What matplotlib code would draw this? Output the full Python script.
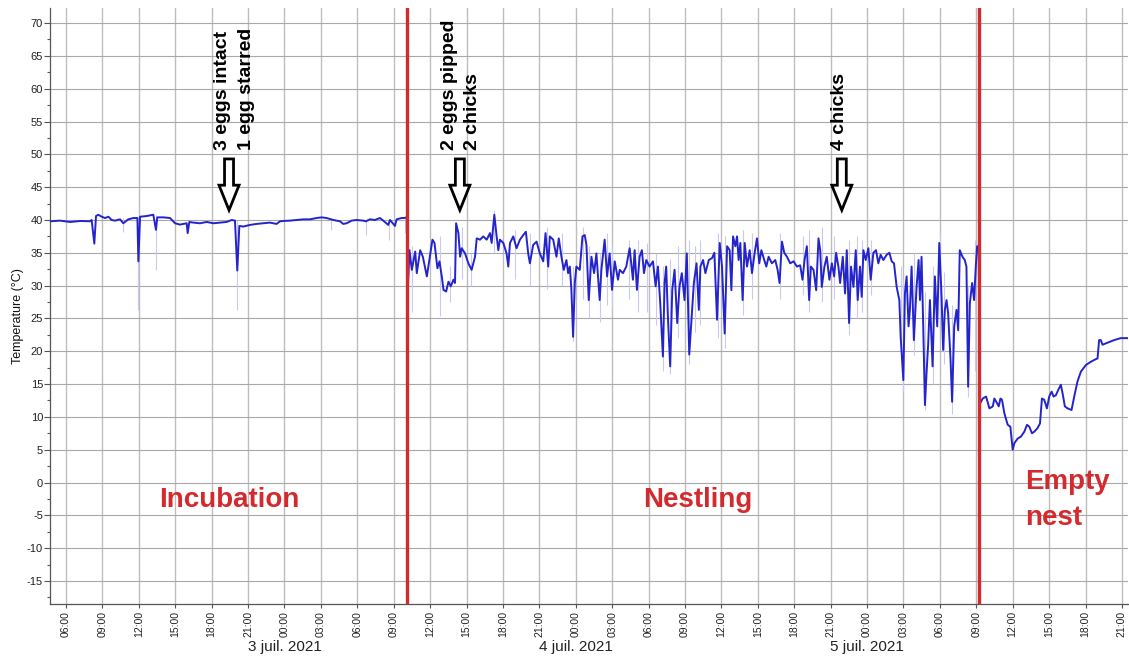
import matplotlib
matplotlib.use('Agg')
import numpy as np
import matplotlib.pyplot as plt
from matplotlib.patches import FancyArrow
from matplotlib.ticker import FixedLocator, MultipleLocator

# time axis: hours since 2 juil. 2021 00:00, values in degrees C
incubation = [
    (4.68, 39.8), (5.5, 39.9), (6.33, 39.7), (7.2, 39.85), (7.98, 39.8), (8.11, 40.0),
    (8.33, 36.4), (8.47, 40.6), (8.66, 40.8), (8.94, 40.5), (9.21, 40.3), (9.49, 40.5),
    (9.76, 40.0), (10.04, 39.9), (10.45, 40.1), (10.72, 39.5), (11.13, 40.1), (11.55, 40.3),
    (11.88, 40.3), (11.96, 33.7), (12.1, 40.5), (12.64, 40.6), (13.19, 40.8), (13.41, 38.5),
    (13.52, 40.4), (14.02, 40.4), (14.57, 40.3), (14.98, 39.5), (15.39, 39.3), (15.94, 39.5),
    (16.02, 38.0), (16.16, 39.7), (16.49, 39.6), (17.04, 39.5), (17.59, 39.7), (18.14, 39.5),
    (18.68, 39.6), (19.23, 39.7), (19.65, 40.0), (19.92, 39.9), (20.11, 32.3), (20.28, 39.1),
    (20.61, 39.0), (21.16, 39.25), (21.7, 39.4), (22.25, 39.5), (22.8, 39.6), (23.35, 39.4),
    (23.63, 39.8), (23.9, 39.85), (24.45, 39.9), (25.0, 40.0), (25.55, 40.1), (26.1, 40.1),
    (26.65, 40.3), (27.06, 40.4), (27.47, 40.3), (28.02, 40.0), (28.57, 39.8), (28.84, 39.4),
    (29.12, 39.5), (29.53, 39.9), (29.94, 40.0), (30.49, 39.9), (30.71, 39.8), (31.04, 40.1),
    (31.45, 40.0), (31.86, 40.3), (32.14, 39.9), (32.55, 39.25), (32.69, 40.0), (33.1, 39.1),
    (33.24, 40.1), (33.65, 40.3), (33.84, 40.3), (34.08, 40.4),
]

nestling = [
    (34.15, 29.0), (34.3, 35.4), (34.49, 32.4), (34.77, 35.2), (34.9, 31.9), (35.18, 35.4),
    (35.4, 34.4), (35.59, 32.65), (35.73, 31.4), (36.19, 37.0), (36.36, 36.5), (36.6, 32.65),
    (36.77, 33.7), (36.96, 31.4), (37.1, 29.35), (37.32, 29.1), (37.51, 30.6), (37.7, 29.9),
    (37.92, 30.9), (38.05, 30.4), (38.14, 39.5), (38.33, 38.0), (38.47, 34.4), (38.6, 35.7),
    (38.88, 34.9), (39.15, 33.4), (39.42, 32.4), (39.7, 34.4), (39.84, 37.2), (40.11, 37.0),
    (40.38, 37.5), (40.66, 37.0), (40.93, 38.0), (41.07, 36.5), (41.29, 40.8), (41.48, 37.5),
    (41.62, 35.4), (41.75, 37.0), (42.03, 36.5), (42.3, 34.9), (42.44, 32.9), (42.58, 36.5),
    (42.85, 37.5), (43.12, 35.7), (43.4, 37.0), (43.67, 37.7), (43.89, 38.2), (44.08, 34.9),
    (44.22, 33.4), (44.49, 36.2), (44.77, 36.7), (45.04, 34.9), (45.32, 33.7), (45.51, 38.0),
    (45.73, 32.9), (45.86, 37.5), (46.14, 37.0), (46.41, 34.4), (46.6, 37.2), (46.82, 34.4),
    (47.01, 32.4), (47.23, 33.9), (47.37, 31.9), (47.51, 32.9), (47.64, 29.35), (47.78, 22.2),
    (47.92, 30.4), (48.05, 32.9), (48.33, 32.4), (48.55, 37.5), (48.74, 37.7), (48.88, 36.2),
    (49.07, 27.8), (49.29, 34.4), (49.51, 31.9), (49.7, 34.9), (49.97, 27.8), (50.11, 32.4),
    (50.38, 37.0), (50.58, 31.4), (50.79, 34.9), (50.99, 29.35), (51.21, 33.7), (51.48, 30.9),
    (51.62, 32.4), (51.89, 31.9), (52.16, 32.9), (52.44, 35.7), (52.71, 30.9), (52.85, 35.4),
    (53.04, 29.35), (53.26, 34.4), (53.45, 35.4), (53.62, 31.9), (53.81, 33.9), (54.08, 32.9),
    (54.36, 33.7), (54.58, 29.9), (54.77, 32.9), (54.96, 27.3), (55.18, 19.2), (55.32, 30.4),
    (55.45, 32.9), (55.59, 25.3), (55.78, 17.7), (55.95, 29.35), (56.14, 32.4), (56.36, 24.3),
    (56.55, 29.9), (56.74, 31.9), (56.96, 27.8), (57.15, 34.9), (57.35, 19.5), (57.73, 30.4),
    (57.95, 33.4), (58.14, 26.3), (58.27, 32.9), (58.49, 33.9), (58.68, 31.9), (58.96, 33.9),
    (59.23, 34.2), (59.42, 35.0), (59.64, 24.8), (59.86, 36.5), (60.05, 32.9), (60.27, 22.7),
    (60.47, 36.0), (60.68, 35.4), (60.82, 29.3), (60.96, 37.5), (61.15, 36.0), (61.29, 37.5),
    (61.42, 33.9), (61.56, 36.5), (61.75, 27.8), (61.92, 36.5), (62.11, 32.9), (62.33, 35.4),
    (62.52, 31.9), (62.74, 35.0), (62.93, 37.2), (63.12, 33.4), (63.29, 35.4), (63.48, 34.2),
    (63.7, 32.9), (63.89, 34.4), (64.16, 33.4), (64.44, 33.9), (64.63, 32.4), (64.79, 30.4),
    (64.99, 36.7), (65.18, 35.0), (65.4, 34.4), (65.67, 33.4), (65.95, 33.7), (66.22, 32.9),
    (66.49, 33.1), (66.68, 30.9), (66.85, 33.9), (67.04, 36.0), (67.23, 27.8), (67.37, 32.9),
    (67.59, 32.4), (67.81, 29.3), (68.0, 37.2), (68.14, 35.4), (68.27, 29.8), (68.49, 32.9),
    (68.68, 34.4), (68.9, 30.9), (69.1, 33.4), (69.29, 31.4), (69.45, 35.0), (69.64, 32.9),
    (69.78, 30.4), (70.0, 34.4), (70.19, 28.8), (70.33, 35.4), (70.52, 24.3), (70.68, 32.9),
    (70.88, 29.8), (71.07, 35.4), (71.23, 27.8), (71.42, 32.9), (71.56, 28.3), (71.7, 35.4),
    (71.89, 33.9), (72.11, 35.7), (72.3, 30.9), (72.52, 35.0), (72.74, 35.4), (72.93, 33.4),
    (73.12, 34.7), (73.34, 33.9), (73.62, 34.7), (73.84, 35.0), (74.03, 33.7), (74.22, 33.4),
    (74.44, 29.8), (74.66, 27.8), (74.77, 22.2), (74.99, 15.6), (75.12, 28.8), (75.26, 31.4),
    (75.42, 23.8), (75.53, 26.3), (75.67, 32.9), (75.86, 21.7), (76.08, 29.8), (76.25, 33.9),
    (76.36, 27.8), (76.49, 34.4), (76.63, 23.8), (76.77, 11.8), (76.9, 16.6), (77.04, 21.2),
    (77.18, 27.8), (77.4, 17.7), (77.59, 31.4), (77.78, 23.8), (77.95, 36.5), (78.14, 28.3),
    (78.27, 20.2), (78.41, 26.3), (78.55, 27.8), (78.68, 25.8), (78.88, 18.7), (79.01, 12.3),
    (79.18, 23.8), (79.37, 26.3), (79.51, 23.2), (79.64, 35.4), (79.86, 34.4), (80.05, 33.9),
    (80.19, 32.9), (80.33, 14.6), (80.47, 27.3), (80.66, 30.4), (80.82, 27.8), (80.96, 32.9),
    (81.07, 36.0), (81.2, 36.0),
]

empty_nest = [
    (81.3, 12.0), (81.53, 12.8), (81.81, 13.1), (82.08, 11.3), (82.36, 11.6), (82.49, 12.8),
    (82.71, 12.1), (82.85, 11.6), (82.99, 12.8), (83.12, 12.6), (83.32, 10.5), (83.59, 8.8),
    (83.81, 8.5), (84.0, 5.0), (84.14, 6.0), (84.41, 6.7), (84.68, 7.0), (84.96, 7.75),
    (85.18, 8.8), (85.37, 8.5), (85.59, 7.5), (85.78, 7.75), (86.05, 8.3), (86.25, 9.0),
    (86.41, 12.8), (86.6, 12.6), (86.82, 11.3), (87.01, 13.1), (87.21, 13.85), (87.37, 13.1),
    (87.56, 13.3), (87.75, 14.1), (87.97, 14.9), (88.11, 13.6), (88.3, 11.6), (88.52, 11.3),
    (88.85, 11.05), (89.07, 13.1), (89.34, 15.4), (89.62, 16.9), (90.03, 17.9), (90.44, 18.4),
    (90.85, 18.8), (90.99, 18.9), (91.12, 21.7), (91.26, 21.7), (91.4, 21.0), (91.81, 21.3),
    (92.36, 21.7), (92.9, 22.0), (93.45, 22.0), (93.64, 21.9),
]

# faint raw-reading spikes around the smoothed trace: (hour, low, high)
raw_spikes = [
    (10.72, 38.2, 40.3), (11.96, 26.3, 40.5), (13.41, 32.4, 40.8), (20.11, 26.3, 40.0),
    (27.8, 38.5, 40.3), (30.7, 37.7, 40.0), (32.6, 37.0, 40.2), (33.9, 38.0, 40.5),
    (34.5, 26.0, 36.0), (36.8, 25.3, 37.5), (37.6, 27.5, 33.0), (38.6, 31.0, 39.0),
    (39.4, 30.0, 35.0), (41.3, 35.0, 41.5), (43.0, 31.0, 38.5), (44.2, 30.0, 38.0),
    (45.6, 29.5, 39.0), (46.9, 30.0, 38.0), (47.8, 21.5, 33.0), (48.6, 28.0, 39.0),
    (49.1, 25.0, 36.0), (50.0, 24.5, 35.0), (50.6, 27.0, 38.0), (51.0, 26.5, 36.0),
    (52.4, 28.0, 37.0), (53.1, 26.0, 37.0), (53.9, 26.0, 36.5), (54.6, 24.0, 35.0),
    (55.2, 17.0, 33.0), (55.8, 16.5, 34.0), (56.4, 22.0, 36.0), (57.3, 18.0, 37.0),
    (57.8, 23.0, 36.0), (58.2, 24.0, 37.0), (59.7, 22.0, 38.0), (60.3, 20.5, 37.5),
    (61.8, 25.5, 38.5), (62.5, 28.0, 38.0), (64.8, 28.0, 38.0), (66.7, 28.5, 37.5),
    (67.2, 26.0, 38.5), (68.3, 27.5, 39.0), (69.3, 28.0, 37.5), (70.5, 22.5, 37.0),
    (71.2, 25.0, 37.5), (71.6, 26.0, 37.0), (72.3, 28.5, 37.0), (74.8, 20.0, 33.0),
    (75.0, 14.0, 31.0), (75.9, 19.5, 35.0), (76.8, 11.0, 29.0), (77.4, 15.0, 33.0),
    (78.0, 25.0, 38.0), (78.3, 18.0, 32.0), (79.0, 10.5, 27.0), (80.3, 13.0, 30.0),
    (80.9, 17.0, 37.0),
]

phase_changes = [34.11, 81.23]
phase_names = ['Incubation', 'Nestling', 'Empty\nnest']
phase_label_x = [19.47, 58.06, 85.0]

events = ['3 eggs intact\n1 egg starred', '2 eggs pipped\n2 chicks', '4 chicks']
event_hours = [19.43, 38.45, 69.92]
event_text_hours = [19.88, 38.54, 69.76]

tick_hours = list(range(6, 94, 3))
tick_labels = ['%02d:00' % (h % 24) for h in tick_hours]
day_hours = [24, 48, 72]
day_labels = ['3 juil. 2021', '4 juil. 2021', '5 juil. 2021']


def main():
    plt.rcParams['font.family'] = ['Liberation Sans', 'DejaVu Sans']
    plt.rcParams['axes.unicode_minus'] = False
    red = '#d42a2e'

    fig = plt.figure(figsize=(11.29, 6.59), dpi=100)
    ax = fig.add_axes([0.0443, 0.0835, 0.9548, 0.9044])

    trace = np.array(incubation + nestling + empty_nest)
    spikes = np.array(raw_spikes)

    ax.vlines(spikes[:, 0], spikes[:, 1], spikes[:, 2], color='#c9c9f2', lw=0.8, zorder=2)
    ax.plot(trace[:, 0], trace[:, 1], color='#2424cc', lw=1.4, zorder=3)

    for h in phase_changes:
        ax.axvline(h, color=red, lw=2.4, zorder=4)

    ax.set_xlim(4.68, 93.5)
    ax.set_ylim(-18.5, 72.3)

    ax.xaxis.set_major_locator(FixedLocator(tick_hours))
    ax.set_xticklabels(tick_labels, rotation=90, fontsize=7.5)
    ax.yaxis.set_major_locator(MultipleLocator(5))
    ax.yaxis.set_minor_locator(MultipleLocator(2.5))
    ax.tick_params(axis='y', which='major', length=4, width=0.8, colors='#555555',
                   labelcolor='#222222', labelsize=8, pad=1)
    ax.tick_params(axis='y', which='minor', length=2.5, width=0.8, colors='#555555')
    ax.tick_params(axis='x', length=3, width=0.8, colors='#555555',
                   labelcolor='#222222', pad=2)

    ax.grid(axis='y', which='major', color='#a8a8a8', lw=0.8, zorder=0)
    ax.grid(axis='x', which='major', color='#bdbdbd', lw=1.0, zorder=0)
    ax.set_axisbelow(True)
    for side in ['top', 'right']:
        ax.spines[side].set_visible(False)
    for side in ['left', 'bottom']:
        ax.spines[side].set_color('#555555')
        ax.spines[side].set_linewidth(0.9)

    ax.set_ylabel('Temperature (°C)', fontsize=9, color='#111111')
    ax.yaxis.set_label_coords(-0.024, 0.483)

    for h, lab in zip(day_hours, day_labels):
        ax.text(h, -0.072, lab, transform=ax.get_xaxis_transform(), ha='center',
                va='center', fontsize=11, color='#222222')

    for h, eh, lab in zip(event_hours, event_text_hours, events):
        ax.text(eh, 50.6, lab, rotation=90, ha='center', va='bottom', multialignment='left',
                fontsize=14, fontweight='bold', linespacing=1.5, zorder=5)
        ax.add_patch(FancyArrow(h, 49.3, 0, -7.8, width=0.74, head_width=1.65,
                                head_length=3.8, length_includes_head=True,
                                fc='white', ec='black', lw=2.0, zorder=5))

    for x, lab in zip(phase_label_x, phase_names):
        multi = '\n' in lab
        ax.text(x, -6.48 if multi else -3.74, lab, ha='left' if multi else 'center',
                va='baseline', multialignment='left', color=red, fontsize=20,
                fontweight='bold', linespacing=1.5, zorder=5)

    fig.savefig('out.png', dpi=100)


if __name__ == "__main__":
    main()
